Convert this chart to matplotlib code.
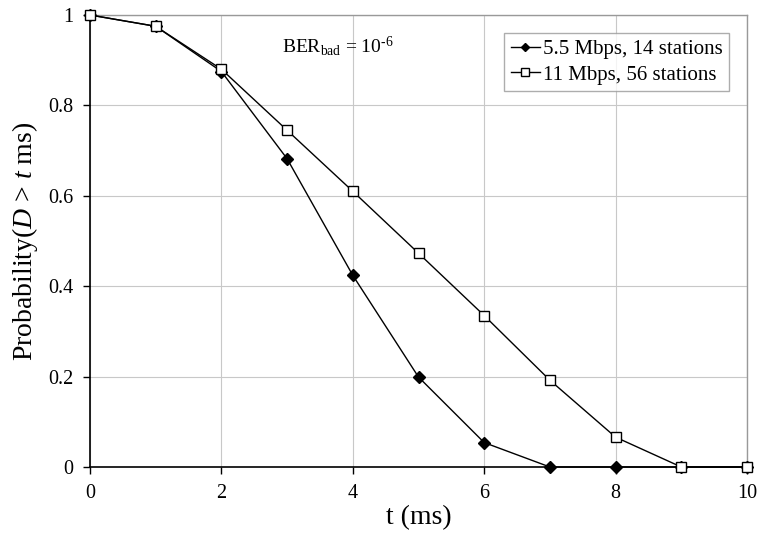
import matplotlib
matplotlib.use("Agg")
import matplotlib.pyplot as plt
import numpy as np

plt.rcParams["font.family"] = ["Liberation Serif", "DejaVu Serif"]
plt.rcParams["mathtext.fontset"] = "custom"
plt.rcParams["mathtext.rm"] = "Liberation Serif"
plt.rcParams["mathtext.it"] = "Liberation Serif:italic"

#----------Data----------#
t_ms = [0, 1, 2, 3, 4, 5, 6, 7, 8, 9, 10]
p_55 = [1.0, 0.975, 0.875, 0.682, 0.424, 0.199, 0.054, 0.0, 0.0, 0.0, 0.0]
p_11 = [1.0, 0.975, 0.880, 0.745, 0.610, 0.473, 0.335, 0.192, 0.066, 0.0, 0.0]
labels = ["5.5 Mbps, 14 stations", "11 Mbps, 56 stations"]
x_ticks = [0, 2, 4, 6, 8, 10]
y_ticks = [0, 0.2, 0.4, 0.6, 0.8, 1]

fig = plt.figure(figsize=(7.57, 5.40), dpi=100)
ax = fig.add_axes([90 / 757, 1 - 467 / 540, (747 - 90) / 757, (467 - 15) / 540])

ax.plot(t_ms, p_55, color="black", lw=1, marker="D", ms=6,
        mfc="black", mec="black", label=labels[0], zorder=3, clip_on=False)
ax.plot(t_ms, p_11, color="black", lw=1, marker="s", ms=7,
        mfc="white", mec="black", label=labels[1], zorder=3, clip_on=False)

ax.set_xlim(0, 10)
ax.set_ylim(0, 1)
ax.set_xticks(x_ticks)
ax.set_yticks(y_ticks)
ax.set_yticklabels(["0", "0.2", "0.4", "0.6", "0.8", "1"])
ax.grid(True, color="#c8c8c8", lw=0.8)
ax.set_axisbelow(True)
ax.tick_params(direction="out", length=5, width=1, labelsize=14.5, colors="black", pad=7)

for side in ("top", "right"):
    ax.spines[side].set_color("#999999")
    ax.spines[side].set_linewidth(1)
for side in ("left", "bottom"):
    ax.spines[side].set_color("black")
    ax.spines[side].set_linewidth(1.2)

ax.set_xlabel("t (ms)", fontsize=20, labelpad=2)
ax.set_ylabel("Probability($D$ > $t$ ms)", fontsize=20, labelpad=6)

ax.text(2.92, 0.931, r"BER$_{\mathrm{bad}}$ = 10$^{\text{-6}}$", fontsize=14,
        ha="left", va="center")

leg = ax.legend(loc="upper right", bbox_to_anchor=(0.9726, 0.96), fontsize=15,
                frameon=True, fancybox=False, edgecolor="#999999",
                handlelength=1.4, handletextpad=0.15, borderpad=0.3,
                labelspacing=0.3, borderaxespad=0, markerscale=0.75)
leg.get_frame().set_linewidth(1)

fig.savefig("out.png", dpi=100)
